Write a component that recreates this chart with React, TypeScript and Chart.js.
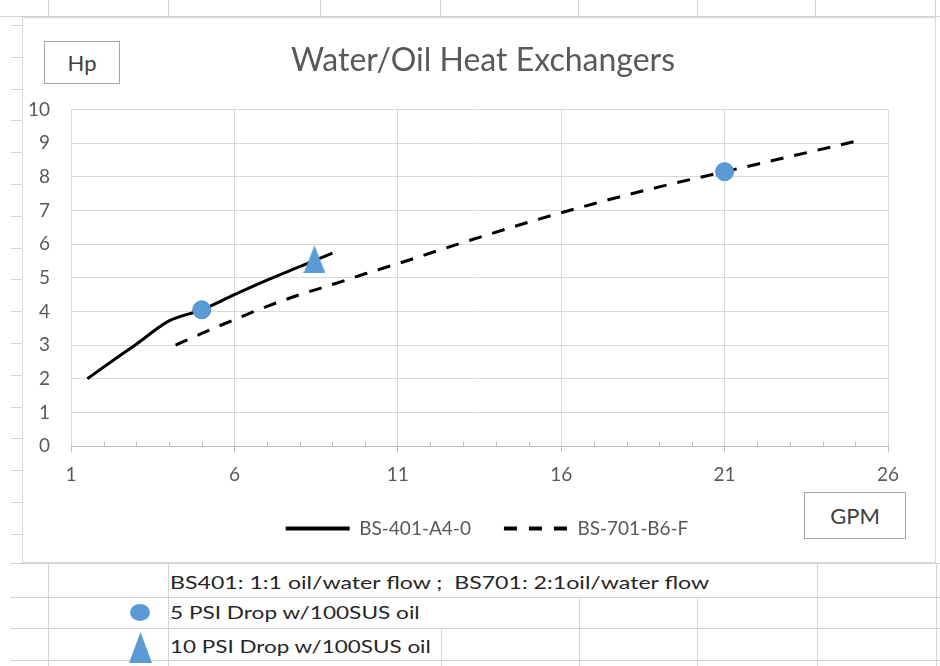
import React, { useEffect, useRef } from "react";
import { Chart, registerables } from "chart.js";

Chart.register(...registerables);

// ---- data ----
const TITLE = "Water/Oil Heat Exchangers";
const X_TICKS = [1, 6, 11, 16, 21, 26];
const Y_MIN = 0;
const Y_MAX = 10;

const BS401_LABEL = "BS-401-A4-0";
const BS401_GPM = [1.5, 2, 3, 4, 5, 6, 7, 8, 9];
const BS401_HP = [2.0, 2.35, 3.03, 3.72, 4.05, 4.5, 4.93, 5.33, 5.73];

const BS701_LABEL = "BS-701-B6-F";
const BS701_GPM = [4.2, 5, 6, 7, 8, 9, 10, 11, 13, 15, 17, 19, 21, 23, 25];
const BS701_HP = [3.0, 3.35, 3.76, 4.15, 4.5, 4.8, 5.12, 5.42, 6.05, 6.65, 7.2, 7.7, 8.15, 8.6, 9.05];

const PSI5_GPM = [5, 21];
const PSI5_HP = [4.05, 8.15];
const PSI10_GPM = [8.45];
const PSI10_HP = [5.55];

const NOTE_FLOW = "BS401: 1:1 oil/water flow ;  BS701: 2:1oil/water flow";
const NOTE_5PSI = "5 PSI Drop w/100SUS oil";
const NOTE_10PSI = "10 PSI Drop w/100SUS oil";
const Y_AXIS_TITLE = "Hp";
const X_AXIS_TITLE = "GPM";

const BLUE = "#5b9bd5";
const GRID = "#d9d9d9";
const CELL = "#d4d4d4";
const FONT = "Lato, 'Open Sans', sans-serif";

const pts = (xs: number[], ys: number[]) => xs.map((x, i) => ({ x, y: ys[i] }));

function triangleImage() {
  const c = document.createElement("canvas");
  c.width = 22;
  c.height = 28;
  const g = c.getContext("2d")!;
  g.fillStyle = BLUE;
  g.beginPath();
  g.moveTo(11, 0);
  g.lineTo(22, 28);
  g.lineTo(0, 28);
  g.closePath();
  g.fill();
  return c;
}

const minorTicks = {
  id: "minorTicks",
  beforeDatasetsDraw(chart: any) {
    const xs = chart.scales.x;
    const bottom = chart.chartArea.bottom;
    const ctx = chart.ctx;
    ctx.save();
    ctx.strokeStyle = "#bfbfbf";
    ctx.lineWidth = 1;
    for (let v = X_TICKS[0]; v <= X_TICKS[X_TICKS.length - 1]; v++) {
      if (X_TICKS.includes(v)) continue;
      const px = Math.round(xs.getPixelForValue(v)) + 0.5;
      ctx.beginPath();
      ctx.moveTo(px, bottom);
      ctx.lineTo(px, bottom - 5);
      ctx.stroke();
    }
    ctx.restore();
  },
};

// nudge the legend and title boxes so they sit where the reference has them
const boxShift = {
  id: "boxShift",
  afterLayout(chart: any) {
    if (chart.legend) chart.legend.left += 64;
    if (chart.titleBlock) chart.titleBlock.left += 56;
  },
};

function ChartCanvas() {
  const ref = useRef<HTMLCanvasElement | null>(null);
  useEffect(() => {
    const tri = triangleImage();
    const chart = new Chart(ref.current!, {
      type: "scatter",
      data: {
        datasets: [
          {
            label: "5 PSI",
            data: pts(PSI5_GPM, PSI5_HP),
            pointStyle: "circle",
            pointRadius: 9,
            pointBackgroundColor: BLUE,
            pointBorderColor: "#4f8fca",
            pointBorderWidth: 1,
            showLine: false,
          },
          {
            label: "10 PSI",
            data: pts(PSI10_GPM, PSI10_HP),
            pointStyle: tri as any,
            pointRadius: 12,
            showLine: false,
          },
          {
            label: BS401_LABEL,
            data: pts(BS401_GPM, BS401_HP),
            showLine: true,
            borderColor: "#000000",
            backgroundColor: "#000000",
            borderWidth: 3,
            pointRadius: 0,
            cubicInterpolationMode: "monotone",
          },
          {
            label: BS701_LABEL,
            data: pts(BS701_GPM, BS701_HP),
            showLine: true,
            borderColor: "#000000",
            backgroundColor: "#000000",
            borderWidth: 3,
            borderDash: [13, 11],
            pointRadius: 0,
            cubicInterpolationMode: "monotone",
          },
        ],
      },
      options: {
        responsive: false,
        animation: false,
        devicePixelRatio: 1,
        layout: { padding: { left: 0, right: 48, top: 0, bottom: 15 } },
        plugins: {
          tooltip: { enabled: false },
          title: {
            display: true,
            text: TITLE,
            color: "#595959",
            font: { family: FONT, size: 32, weight: "normal" },
            padding: { top: 24, bottom: 30 },
          },
          legend: {
            display: true,
            position: "bottom",
            labels: {
              usePointStyle: true,
              pointStyleWidth: 64,
              boxHeight: 4,
              padding: 33,
              color: "#595959",
              font: { family: FONT, size: 19 },
              generateLabels: () => [
                {
                  text: BS401_LABEL,
                  pointStyle: "line",
                  strokeStyle: "#000",
                  fillStyle: "#000",
                  lineWidth: 4,
                  lineDash: [],
                  fontColor: "#595959",
                  datasetIndex: 2,
                } as any,
                {
                  text: BS701_LABEL,
                  pointStyle: "line",
                  strokeStyle: "#000",
                  fillStyle: "#000",
                  lineWidth: 4,
                  lineDash: [13, 12],
                  fontColor: "#595959",
                  datasetIndex: 3,
                } as any,
              ],
            },
          },
        },
        scales: {
          x: {
            type: "linear",
            min: X_TICKS[0],
            max: X_TICKS[X_TICKS.length - 1],
            afterBuildTicks: (s: any) => {
              s.ticks = X_TICKS.map((v) => ({ value: v }));
            },
            afterFit: (s: any) => {
              s.height = s.height - 11;
            },
            grid: { color: GRID, tickColor: "#bfbfbf", tickLength: 6, drawTicks: true },
            border: { color: "#bfbfbf", width: 1 },
            ticks: {
              color: "#595959",
              font: { family: FONT, size: 19 },
              padding: 11,
              maxRotation: 0,
              autoSkip: false,
            },
          },
          y: {
            type: "linear",
            min: Y_MIN,
            max: Y_MAX,
            afterFit: (s: any) => {
              s.width = 49;
            },
            grid: { color: GRID, drawTicks: false },
            border: { display: false },
            ticks: {
              stepSize: 1,
              color: "#595959",
              font: { family: FONT, size: 19 },
              padding: 21,
            },
          },
        },
      },
      plugins: [minorTicks, boxShift],
    });
    return () => chart.destroy();
  }, []);
  return (
    <canvas
      ref={ref}
      width={914}
      height={546}
      style={{ position: "absolute", left: 22, top: 17, width: 914, height: 546 }}
    />
  );
}

const line = (key: string, left: number, top: number, width: number, height: number) => (
  <div key={key} style={{ position: "absolute", left, top, width, height, background: CELL }} />
);

export default function App() {
  const cells: React.ReactNode[] = [];
  [48, 168, 320, 440, 578, 697, 815, 935].forEach((x, i) => cells.push(line("tv" + i, x, 0, 1, 17)));
  cells.push(line("th", 0, 16, 940, 1));
  for (let k = 0; k <= 16; k++) cells.push(line("ls" + k, 11, Math.round(25 + 31.8 * k), 11, 1));
  [563, 597, 628, 660].forEach((y, i) => cells.push(line("bh" + i, 10, y, 930, 1)));
  cells.push(line("bv0", 48, 563, 1, 103));
  cells.push(line("bv1", 168, 563, 1, 103));
  cells.push(line("bv2", 441, 628, 1, 38));
  cells.push(line("bv3", 579, 597, 1, 69));
  cells.push(line("bv4", 697, 597, 1, 69));
  cells.push(line("bv5", 817, 563, 1, 103));
  cells.push(line("bv6", 936, 563, 1, 103));

  const note: React.CSSProperties = {
    position: "absolute",
    left: 170,
    fontFamily: FONT,
    fontSize: 17,
    color: "#262626",
    whiteSpace: "pre",
    lineHeight: "20px",
    transformOrigin: "0 50%",
  };

  return (
    <div
      style={{
        position: "fixed",
        left: 0,
        top: 0,
        width: 940,
        height: 666,
        background: "#ffffff",
        overflow: "hidden",
        fontFamily: FONT,
      }}
    >
      {cells}
      <ChartCanvas />
      <div
        style={{
          position: "absolute",
          left: 22,
          top: 17,
          width: 914,
          height: 546,
          boxSizing: "border-box",
          border: "1px solid #d9d9d9",
          pointerEvents: "none",
        }}
      />
      <div
        style={{
          position: "absolute",
          left: 44,
          top: 41,
          width: 76,
          height: 43,
          boxSizing: "border-box",
          border: "1px solid #a6a6a6",
          background: "#fff",
          display: "flex",
          alignItems: "center",
          justifyContent: "center",
          fontSize: 22,
          color: "#404040",
        }}
      >
        {Y_AXIS_TITLE}
      </div>
      <div
        style={{
          position: "absolute",
          left: 804,
          top: 492,
          width: 102,
          height: 47,
          boxSizing: "border-box",
          border: "1px solid #a6a6a6",
          background: "#fff",
          display: "flex",
          alignItems: "center",
          justifyContent: "center",
          fontSize: 22,
          color: "#404040",
        }}
      >
        {X_AXIS_TITLE}
      </div>
      <div style={{ ...note, top: 573, transform: "scaleX(1.36)" }}>{NOTE_FLOW}</div>
      <div
        style={{
          position: "absolute",
          left: 130,
          top: 604,
          width: 20,
          height: 17,
          borderRadius: "50%",
          background: BLUE,
        }}
      />
      <div style={{ ...note, top: 603, transform: "scaleX(1.33)" }}>{NOTE_5PSI}</div>
      <div
        style={{
          position: "absolute",
          left: 129,
          top: 632,
          width: 23,
          height: 31,
          background: BLUE,
          clipPath: "polygon(50% 0, 100% 100%, 0 100%)",
        }}
      />
      <div style={{ ...note, top: 637, transform: "scaleX(1.32)" }}>{NOTE_10PSI}</div>
    </div>
  );
}
